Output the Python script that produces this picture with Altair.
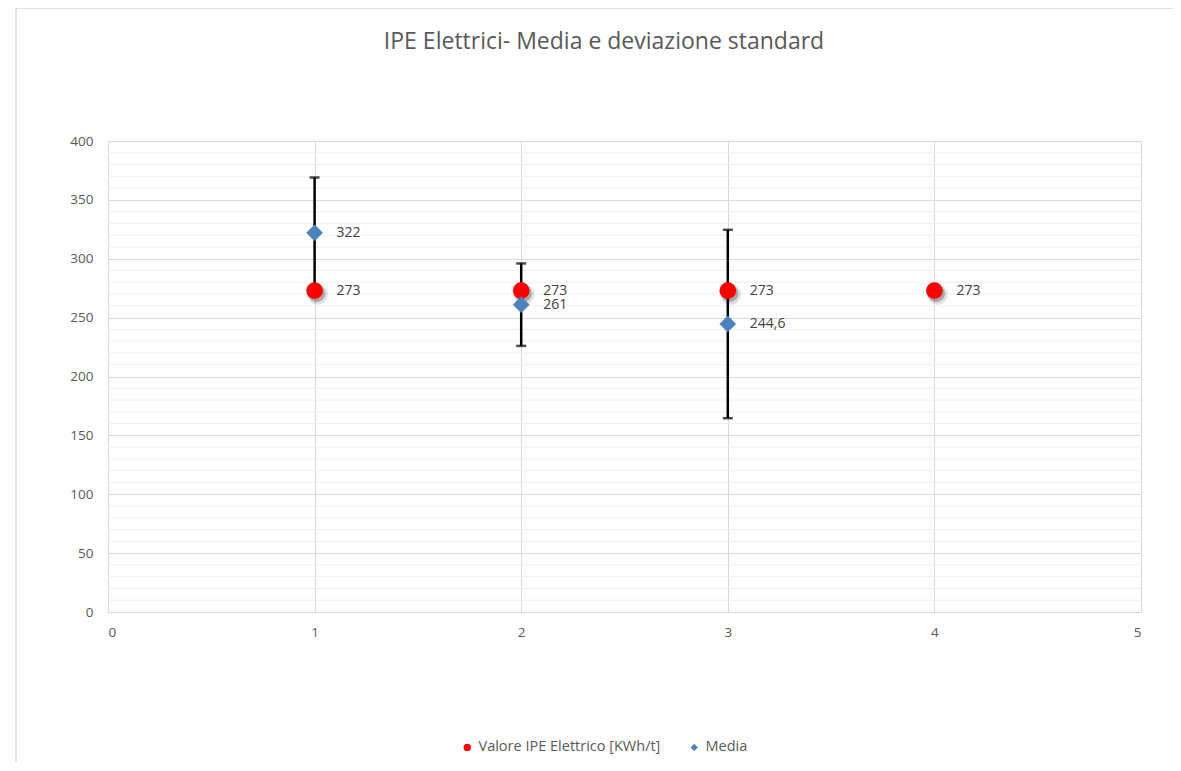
import altair as alt
import pandas as pd

# ---- data ----
x_valore = [1, 2, 3, 4]
valore = [273, 273, 273, 273]
valore_labels = ["273", "273", "273", "273"]

x_media = [1, 2, 3]
media = [322, 261, 244.6]
media_labels = ["322", "261", "244,6"]
dev_std = [47, 35, 80]

S1 = "Valore IPE Elettrico [KWh/t]"
S2 = "Media"
TITLE = "IPE Elettrici- Media e deviazione standard"

x_ticks = [0, 1, 2, 3, 4, 5]
y_ticks = [0, 50, 100, 150, 200, 250, 300, 350, 400]
y_minor = [v for v in range(10, 400, 10) if v % 50 != 0]

pts = pd.DataFrame({
    "x": x_valore + x_media,
    "y": valore + media,
    "serie": [S1] * len(x_valore) + [S2] * len(x_media),
    "label": valore_labels + media_labels,
})
red = pts[pts["serie"] == S1]
err = pd.DataFrame({
    "x": x_media,
    "lo": [m - s for m, s in zip(media, dev_std)],
    "hi": [m + s for m, s in zip(media, dev_std)],
})
minor = pd.DataFrame({"y": y_minor})

FONT = "Open Sans"
TXT = "#595959"
GRID = "#d9d9d9"

xs = alt.Scale(domain=[0, 5], nice=False, zero=False)
ys = alt.Scale(domain=[0, 400], nice=False)

x_axis = alt.Axis(values=x_ticks, format="d", grid=True, gridColor=GRID, domain=False, ticks=False,
                  labelPadding=13, labelFontSize=13.5, labelColor=TXT, labelFont=FONT, title=None)
y_axis = alt.Axis(values=y_ticks, format="d", grid=True, gridColor=GRID, domain=False, ticks=False,
                  labelPadding=15, labelFontSize=13.5, labelColor=TXT, labelFont=FONT, title=None)

minor_grid = alt.Chart(minor).mark_rule(color="#efefef", strokeWidth=1).encode(
    y=alt.Y("y:Q", scale=ys, axis=y_axis),
    x=alt.value(0), x2=alt.value(1033),
)

bars = alt.Chart(err).mark_rule(color="black", strokeWidth=2.5).encode(
    x=alt.X("x:Q", scale=xs, axis=x_axis),
    y=alt.Y("lo:Q", scale=ys),
    y2="hi:Q",
)
cap_lo = alt.Chart(err).mark_tick(color="black", thickness=2.5, size=10, orient="horizontal").encode(
    x=alt.X("x:Q", scale=xs), y=alt.Y("lo:Q", scale=ys))
cap_hi = alt.Chart(err).mark_tick(color="black", thickness=2.5, size=10, orient="horizontal").encode(
    x=alt.X("x:Q", scale=xs), y=alt.Y("hi:Q", scale=ys))

shadow1 = alt.Chart(red).mark_point(filled=True, color="#000000", opacity=0.12, size=420,
                                     xOffset=3, yOffset=4).encode(
    x=alt.X("x:Q", scale=xs), y=alt.Y("y:Q", scale=ys))
shadow2 = alt.Chart(red).mark_point(filled=True, color="#000000", opacity=0.25, size=290,
                                     xOffset=2, yOffset=3).encode(
    x=alt.X("x:Q", scale=xs), y=alt.Y("y:Q", scale=ys))

points = alt.Chart(pts).mark_point(filled=True, opacity=1, size=280).encode(
    x=alt.X("x:Q", scale=xs),
    y=alt.Y("y:Q", scale=ys),
    color=alt.Color("serie:N",
                    scale=alt.Scale(domain=[S1, S2], range=["#ff0000", "#4f81bd"]),
                    legend=alt.Legend(orient="none", legendX=352, legendY=599, direction="horizontal",
                                      title=None, symbolSize=55, labelFontSize=14.5,
                                      labelColor=TXT, labelFont=FONT, columnPadding=26,
                                      labelOffset=4, labelLimit=400, symbolOpacity=1, padding=0)),
    shape=alt.Shape("serie:N", scale=alt.Scale(domain=[S1, S2], range=["circle", "diamond"]),
                    legend=None),
)

labels = alt.Chart(pts).mark_text(align="left", baseline="middle", dx=22, fontSize=14,
                                  font=FONT, color="#404040").encode(
    x=alt.X("x:Q", scale=xs), y=alt.Y("y:Q", scale=ys), text="label:N")

title = alt.Chart(pd.DataFrame({"t": [TITLE]})).mark_text(
    align="center", baseline="middle", fontSize=23, font=FONT, color=TXT).encode(
    x=alt.value(496), y=alt.value(-99), text="t:N")

frame_df = pd.DataFrame({"k": [0]})
frame_left = alt.Chart(frame_df).mark_rule(color=GRID, strokeWidth=1.5).encode(
    x=alt.value(-92), y=alt.value(-133), y2=alt.value(700))
frame_top = alt.Chart(frame_df).mark_rule(color=GRID, strokeWidth=1.5).encode(
    x=alt.value(-92), x2=alt.value(1100), y=alt.value(-133))

chart = alt.layer(
    minor_grid, bars, cap_lo, cap_hi, shadow1, shadow2, points, labels, title, frame_left, frame_top
).properties(
    width=1033, height=471,
    autosize=alt.AutoSizeParams(type="none"),
    padding={"left": 100, "top": 133, "right": 32, "bottom": 150},
).configure_view(stroke=None)

chart.save("out.html", embed_options={"renderer": "svg", "actions": False})
